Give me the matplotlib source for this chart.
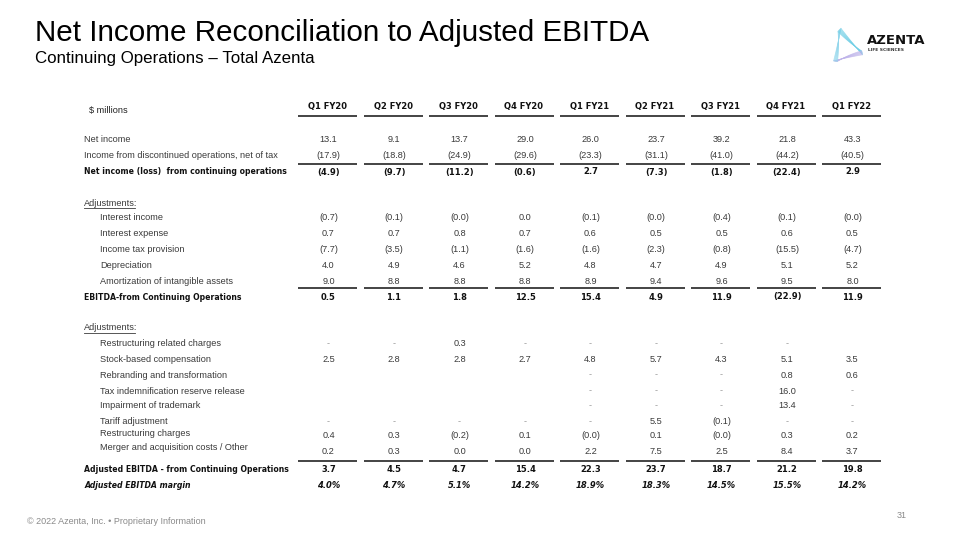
import numpy as np
import matplotlib.pyplot as plt

# ---------------------------------------------------------------
# Table data ($ millions); None = blank cell, 0 = dash
quarters = ['Q1 FY20', 'Q2 FY20', 'Q3 FY20', 'Q4 FY20', 'Q1 FY21',
            'Q2 FY21', 'Q3 FY21', 'Q4 FY21', 'Q1 FY22']

net_income = [13.1, 9.1, 13.7, 29.0, 26.0, 23.7, 39.2, 21.8, 43.3]
disc_ops = [-17.9, -18.8, -24.9, -29.6, -23.3, -31.1, -41.0, -44.2, -40.5]
cont_ops = [-4.9, -9.7, -11.2, -0.6, 2.7, -7.3, -1.8, -22.4, 2.9]

interest_income = [-0.7, -0.1, -0.0, 0.0, -0.1, -0.0, -0.4, -0.1, -0.0]
interest_expense = [0.7, 0.7, 0.8, 0.7, 0.6, 0.5, 0.5, 0.6, 0.5]
tax_provision = [-7.7, -3.5, -1.1, -1.6, -1.6, -2.3, -0.8, -15.5, -4.7]
depreciation = [4.0, 4.9, 4.6, 5.2, 4.8, 4.7, 4.9, 5.1, 5.2]
amortization = [9.0, 8.8, 8.8, 8.8, 8.9, 9.4, 9.6, 9.5, 8.0]
ebitda = [0.5, 1.1, 1.8, 12.5, 15.4, 4.9, 11.9, -22.9, 11.9]

restr_related = [0, 0, 0.3, 0, 0, 0, 0, 0, None]
stock_comp = [2.5, 2.8, 2.8, 2.7, 4.8, 5.7, 4.3, 5.1, 3.5]
rebranding = [None, None, None, None, 0, 0, 0, 0.8, 0.6]
tax_indemn = [None, None, None, None, 0, 0, 0, 16.0, 0]
impairment = [None, None, None, None, 0, 0, 0, 13.4, 0]
tariff = [0, 0, 0, 0, 0, 5.5, -0.1, 0, 0]
restr_charges = [0.4, 0.3, -0.2, 0.1, -0.0, 0.1, -0.0, 0.3, 0.2]
merger_other = [0.2, 0.3, 0.0, 0.0, 2.2, 7.5, 2.5, 8.4, 3.7]
adj_ebitda = [3.7, 4.5, 4.7, 15.4, 22.3, 23.7, 18.7, 21.2, 19.8]
adj_margin = [4.0, 4.7, 5.1, 14.2, 18.9, 18.3, 14.5, 15.5, 14.2]

# (label, values, y, style, indent, dash-for-zero)
rows = [
    ('Net income', net_income, 140, 'reg', False, False),
    ('Income from discontinued operations, net of tax', disc_ops, 155, 'reg', False, False),
    ('Net income (loss)  from continuing operations', cont_ops, 172, 'bold', False, False),
    ('Interest income', interest_income, 218, 'reg', True, False),
    ('Interest expense', interest_expense, 234, 'reg', True, False),
    ('Income tax provision', tax_provision, 250, 'reg', True, False),
    ('Depreciation', depreciation, 266, 'reg', True, False),
    ('Amortization of intangible assets', amortization, 282, 'reg', True, False),
    ('EBITDA-from Continuing Operations', ebitda, 297, 'bold', False, False),
    ('Restructuring related charges', restr_related, 344, 'reg', True, True),
    ('Stock-based compensation', stock_comp, 359, 'reg', True, True),
    ('Rebranding and transformation', rebranding, 375, 'reg', True, True),
    ('Tax indemnification reserve release', tax_indemn, 391, 'reg', True, True),
    ('Impairment of trademark', impairment, 406, 'reg', True, True),
    ('Tariff adjustment', tariff, 422, 'reg', True, True),
    ('Restructuring charges', restr_charges, 436, 'reg', True, False),
    ('Merger and acquisition costs / Other', merger_other, 451, 'reg', True, False),
    ('Adjusted EBITDA - from Continuing Operations', adj_ebitda, 469, 'bold', False, False),
]

REG = 'Liberation Sans'
BOLD = 'DejaVu Sans'
GRAY = '#3a3a3a'
BFS = 5.6   # bold size
RFS = 6.6   # regular size


def fmt(v, dash):
    if v is None:
        return ''
    if dash and v == 0 and not np.signbit(v):
        return '-'
    if np.signbit(v):
        return f'({abs(v):.1f})'
    return f'{v:.1f}'


fig = plt.figure(figsize=(9.6, 5.4), dpi=100)
ax = fig.add_axes([0, 0, 1, 1])
ax.set_xlim(0, 960)
ax.set_ylim(540, 0)
ax.axis('off')

# title block
ax.text(35, 33, 'Net Income Reconciliation to Adjusted EBITDA', fontsize=21.3,
        family=REG, color='black', va='center')
ax.text(35, 59, 'Continuing Operations \u2013 Total Azenta', fontsize=12.2,
        family=REG, color='black', va='center')

# logo: slightly concave triangle made of thin strands
verts = np.array([[839, 29], [863, 53], [835, 62]], dtype=float)
cen = verts.mean(axis=0)
edge_cols = ['#6fcfe6', '#bdb2ea', '#8fd6ec']
tt = np.linspace(0, 1, 30)[:, None]
for k in range(8):
    ang = (k - 3.5) * 0.03
    c, s = np.cos(ang), np.sin(ang)
    v = (verts - cen) @ np.array([[c, -s], [s, c]]) * (1 - 0.015 * k) + cen
    for e in range(3):
        p, q = v[e], v[(e + 1) % 3]
        mid = (p + q) / 2
        ctrl = mid + (cen - mid) * (0.04 + 0.025 * k)
        cur = (1 - tt) ** 2 * p + 2 * (1 - tt) * tt * ctrl + tt ** 2 * q
        ax.plot(cur[:, 0], cur[:, 1], color=edge_cols[e], lw=0.5, alpha=0.7)
ax.text(867, 40, 'AZENTA', fontsize=9.5, family=BOLD, weight='bold', color='#111111', va='center')
ax.text(868, 50, 'LIFE SCIENCES', fontsize=3.2, family=BOLD, weight='bold', color='#333333', va='center')

# column headers
xc = 327.5 + 65.5 * np.arange(len(quarters))
ax.text(89, 110, '$ millions', fontsize=RFS, family=REG, color='#222222', va='center')
for x, q in zip(xc, quarters):
    ax.text(x, 107, q, fontsize=6, family=BOLD, weight='bold', ha='center', va='center', color='#111111')


def underline(y):
    for x in xc:
        ax.plot([x - 29.5, x + 29.5], [y, y], color='#111111', lw=1.1, solid_capstyle='butt')


underline(116)
underline(164)
underline(288)
underline(461)

# section headers
for y in [203, 328]:
    ax.text(84, y, 'Adjustments:', fontsize=RFS, family=REG, color=GRAY, va='center')
    ax.plot([84, 135], [y + 4.5, y + 4.5], color=GRAY, lw=0.6)

for label, vals, y, style, indent, dash in rows:
    lx = 100 if indent else 84
    ly = y - 3 if label in ('Restructuring charges', 'Merger and acquisition costs / Other') else y
    if style == 'bold':
        ax.text(lx, ly, label, fontsize=BFS, family=BOLD, weight='bold', color='#111111', va='center')
    else:
        ax.text(lx, ly, label, fontsize=RFS, family=REG, color=GRAY, va='center')
    for x, v in zip(xc, vals):
        s = fmt(v, dash)
        if style == 'bold':
            ax.text(x + 1, y, s, fontsize=6, family=BOLD, weight='bold', ha='center', va='center', color='#111111')
        else:
            c = '#9a9a9a' if s == '-' else GRAY
            ax.text(x + 1, y, s, fontsize=RFS, family=REG, ha='center', va='center', color=c)

# margin row
ax.text(84, 485, 'Adjusted EBITDA margin', fontsize=BFS, family=BOLD, weight='bold',
        style='italic', color='#111111', va='center')
for x, v in zip(xc, adj_margin):
    ax.text(x + 1, 485, f'{v:.1f}%', fontsize=6, family=BOLD, weight='bold', style='italic',
            ha='center', va='center', color='#111111')

# footer
ax.text(27, 522, '\u00a9 2022 Azenta, Inc. \u2022 Proprietary Information', fontsize=6.5,
        family=REG, color='#8a8a8a', va='center')
ax.text(897, 515, '31', fontsize=6.5, family=REG, color='#8a8a8a', va='center')

fig.savefig('out.png', dpi=100)
